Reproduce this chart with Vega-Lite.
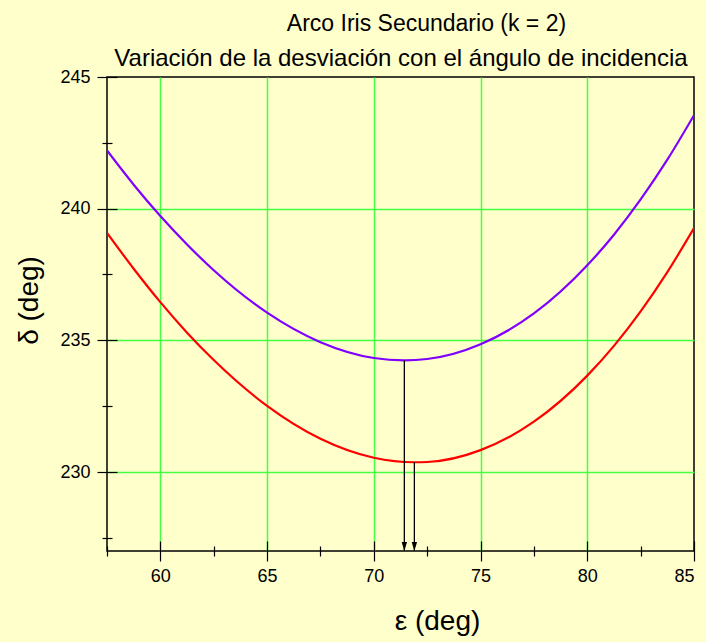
{
  "$schema": "https://vega.github.io/schema/vega-lite/v6.json",
  "width": 587,
  "height": 474,
  "autosize": {"type": "none"},
  "padding": {"left": 107, "top": 77, "right": 12, "bottom": 91},
  "background": "#FFFFCC",
  "config": {
    "view": {"stroke": "#000000", "strokeWidth": 1.5, "fill": "#FFFFCC"},
    "font": "Liberation Sans",
    "axis": {"labelFont": "Liberation Sans", "titleFont": "Liberation Sans", "labelColor": "#000", "titleColor": "#000", "titleFontWeight": "normal", "tickColor": "#000", "tickWidth": 1.2}
  },
  "title": {
    "text": "Arco Iris Secundario (k = 2)",
    "font": "Liberation Sans",
    "fontSize": 23,
    "fontWeight": "normal",
    "color": "#000",
    "anchor": "middle",
    "dx": 26,
    "offset": 10
  },
  "datasets": {
    "curves": [
      {"e": 57.5, "d": 242.21, "c": "violeta"},
      {"e": 58.75, "d": 240.91, "c": "violeta"},
      {"e": 60, "d": 239.72, "c": "violeta"},
      {"e": 61.25, "d": 238.64, "c": "violeta"},
      {"e": 62.5, "d": 237.66, "c": "violeta"},
      {"e": 65, "d": 236.05, "c": "violeta"},
      {"e": 67.5, "d": 234.93, "c": "violeta"},
      {"e": 70, "d": 234.33, "c": "violeta"},
      {"e": 71.43, "d": 234.24, "c": "violeta"},
      {"e": 72.5, "d": 234.29, "c": "violeta"},
      {"e": 75, "d": 234.85, "c": "violeta"},
      {"e": 77.5, "d": 236.02, "c": "violeta"},
      {"e": 80, "d": 237.85, "c": "violeta"},
      {"e": 81.25, "d": 239.01, "c": "violeta"},
      {"e": 82.5, "d": 240.35, "c": "violeta"},
      {"e": 83.75, "d": 241.86, "c": "violeta"},
      {"e": 85, "d": 243.55, "c": "violeta"},
      {"e": 57.5, "d": 239.08, "c": "rojo"},
      {"e": 58.75, "d": 237.72, "c": "rojo"},
      {"e": 60, "d": 236.45, "c": "rojo"},
      {"e": 61.25, "d": 235.29, "c": "rojo"},
      {"e": 62.5, "d": 234.25, "c": "rojo"},
      {"e": 65, "d": 232.51, "c": "rojo"},
      {"e": 67.5, "d": 231.26, "c": "rojo"},
      {"e": 70, "d": 230.54, "c": "rojo"},
      {"e": 71.9, "d": 230.37, "c": "rojo"},
      {"e": 72.5, "d": 230.38, "c": "rojo"},
      {"e": 75, "d": 230.83, "c": "rojo"},
      {"e": 77.5, "d": 231.91, "c": "rojo"},
      {"e": 80, "d": 233.66, "c": "rojo"},
      {"e": 81.25, "d": 234.79, "c": "rojo"},
      {"e": 82.5, "d": 236.10, "c": "rojo"},
      {"e": 83.75, "d": 237.59, "c": "rojo"},
      {"e": 85, "d": 239.26, "c": "rojo"}
    ],
    "minima": [
      {"e": 71.43, "d": 234.24, "base": 227},
      {"e": 71.9, "d": 230.37, "base": 227}
    ]
  },
  "layer": [
    {
      "data": {"name": "curves"},
      "transform": [{"filter": "datum.c === 'violeta'"}],
      "mark": {"type": "line", "color": "#8000FF", "strokeWidth": 2.2, "interpolate": "monotone", "clip": true},
      "encoding": {
        "x": {"field": "e", "type": "quantitative", "scale": {"domain": [57.5, 85], "nice": false, "zero": false},
          "axis": {"orient": "bottom", "values": [60, 65, 70, 75, 80, 85], "offset": -10, "tickSize": 20, "labelPadding": 6, "labelFontSize": 18, "domain": false, "grid": false,
            "title": "ε (deg)", "titleFontSize": 28, "titlePadding": 22, "titleX": 330}},
        "y": {"field": "d", "type": "quantitative", "scale": {"domain": [227, 245], "nice": false, "zero": false},
          "axis": {"orient": "left", "values": [230, 235, 240, 245], "offset": -10, "tickSize": 20, "labelPadding": 7, "labelFontSize": 18, "domain": false, "grid": false,
            "title": "δ (deg)", "titleFontSize": 28, "titlePadding": 16, "titleY": 223}}
      }
    },
    {
      "data": {"name": "curves"},
      "transform": [{"filter": "datum.c === 'rojo'"}],
      "mark": {"type": "line", "color": "#FF0000", "strokeWidth": 2.2, "interpolate": "monotone", "clip": true},
      "encoding": {
        "x": {"field": "e", "type": "quantitative",
          "axis": {"orient": "top", "values": [60, 65, 70, 75, 80], "ticks": false, "labels": false, "domain": false, "grid": true, "gridColor": "#44FF44", "gridWidth": 1.5,
            "title": "Variación de la desviación con el ángulo de incidencia", "titleFontSize": 24, "titlePadding": 7}},
        "y": {"field": "d", "type": "quantitative",
          "axis": {"orient": "left", "values": [230, 235, 240], "ticks": false, "labels": false, "domain": false, "grid": true, "gridColor": "#44FF44", "gridWidth": 1.5, "title": null}}
      }
    },
    {
      "data": {"name": "minima"},
      "mark": {"type": "rule", "color": "#000000", "strokeWidth": 1.3},
      "encoding": {
        "x": {"field": "e", "type": "quantitative",
          "axis": {"orient": "bottom", "values": [57.5, 62.5, 67.5, 72.5, 77.5, 82.5], "offset": -5, "tickSize": 10, "labels": false, "domain": false, "grid": false, "title": null}},
        "y": {"field": "d", "type": "quantitative",
          "axis": {"orient": "left", "values": [227.5, 232.5, 237.5, 242.5], "offset": -5, "tickSize": 10, "labels": false, "domain": false, "grid": false, "title": null}},
        "y2": {"field": "base"}
      }
    },
    {
      "data": {"name": "minima"},
      "mark": {"type": "point", "shape": "M-0.3,-1L0.3,-1L0,0Z", "filled": true, "color": "#000000", "size": 324, "opacity": 1},
      "encoding": {
        "x": {"field": "e", "type": "quantitative", "axis": null},
        "y": {"field": "base", "type": "quantitative", "axis": null}
      }
    }
  ],
  "resolve": {"axis": {"x": "independent", "y": "independent"}}
}
